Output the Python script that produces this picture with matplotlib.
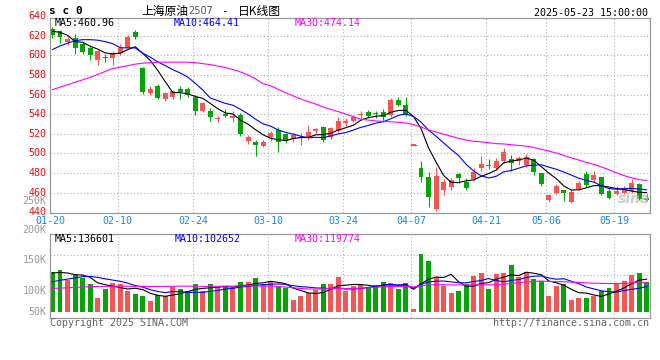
import numpy as np
import pandas as pd
import matplotlib
matplotlib.use('Agg')
import matplotlib.pyplot as plt
import matplotlib.transforms as mtrans

plt.rcParams['font.family'] = ['DejaVu Sans Mono', 'Noto Sans CJK SC']

# SC0 daily bars, 2025-01-20 .. 2025-05-23 (80 trading days)
opens = [626.5, 625, 613.3, 618, 612, 607.7, 595, 598.6, 597, 602,
         607.7, 624, 586.7, 562, 569, 555.4, 557.8, 565.6, 566, 557.8,
         543.6, 543.5, 534.7, 540, 535.7, 539, 512.5, 511.8, 507.5, 516.3,
         523.8, 519.4, 514.3, 515.3, 516.9, 523, 527, 517, 522.8, 530.6,
         533.3, 539, 542, 541, 542, 539.1, 554.4, 549.3, 508.5, 484.7,
         475.5, 442.9, 462.6, 466, 478.9, 471, 473.5, 485.3, 488, 484.7,
         492.4, 493.8, 492.4, 488.1, 493.8, 479.6, 452.3, 459.8, 462.5, 450,
         463.3, 479, 472.8, 475.5, 461.8, 458.5, 459.8, 461.8, 468.7, 454.5]
closes = [620.7, 619, 616.6, 607, 603.7, 600.3, 604.4, 597, 602, 607,
          619, 619, 563, 566, 556, 561.2, 563.6, 562.9, 559.5, 543.2,
          551, 537.3, 536.4, 538, 538, 519.4, 517, 508.5, 511.8, 520.4,
          511.8, 512.5, 518.7, 516.9, 521.4, 524.8, 514, 525.5, 533, 533.3,
          537.4, 540, 538.4, 540, 536.7, 554.4, 549.3, 539.1, 508.5, 475.5,
          455.7, 476.8, 471, 472.8, 474.5, 464.9, 481.3, 489.1, 487, 492.4,
          501.6, 490.4, 494.9, 496.6, 481.3, 468.7, 457.4, 466.6, 459.1, 460.8,
          470, 467.6, 477.9, 458.5, 454, 461.8, 463.3, 469.4, 453, 452]
highs = [628.5, 626, 619, 621.4, 614, 610.5, 605.4, 601, 604, 611.7,
         621, 625.5, 588.4, 569, 570.5, 563, 565, 569, 568, 560,
         552, 546, 538, 545.5, 543, 541, 518.4, 514, 514, 523,
         527, 520.5, 521, 521, 529, 526, 528, 527, 537, 536,
         539, 542.8, 544.4, 543, 545, 556.4, 557.5, 557.5, 508.5, 492.3,
         481, 486, 474, 474.5, 479.5, 475, 485, 497, 494, 495,
         505, 498, 497.5, 499, 495, 480.3, 459, 468.5, 463, 462.5,
         472, 481.5, 482, 476.2, 464, 466.5, 466.5, 473.5, 470, 458]
lows = [618, 613, 610.5, 601, 601, 595, 590, 593, 590.6, 600,
        607, 616.6, 561, 560, 555.4, 553, 555, 555, 557, 539,
        542, 533.3, 532, 537, 532, 518, 510, 497, 506, 513,
        501, 511, 512, 508, 514, 521, 512, 515, 522, 528,
        531.5, 534, 537.5, 536, 532, 536.7, 548, 538, 508.5, 471,
        445, 441.5, 457.5, 462.5, 470, 462.5, 472.5, 482, 484.5, 483,
        490, 482, 488.5, 486.3, 478, 466.8, 450.8, 458.5, 451, 449,
        462.5, 466, 471, 457.5, 453, 457.5, 458.5, 459.8, 452, 451.5]
volume = [163, 172, 131, 152, 141, 115, 59, 94, 120, 113,
          86, 74, 67, 45, 70, 66, 101, 94, 87, 115,
          87, 115, 104, 104, 97, 122, 123, 141, 115, 128,
          101, 97, 49, 67, 77, 90, 115, 115, 142, 87,
          107, 111, 101, 111, 122, 118, 94, 118, 12, 237,
          209, 142, 107, 77, 86, 114, 148, 159, 94, 156,
          159, 193, 145, 163, 135, 127, 66, 107, 114, 49,
          59, 59, 67, 86, 100, 114, 127, 152, 159, 122]  # thousand lots

tick_pos = [0, 9, 19, 29, 39, 48, 58, 66, 75]
tick_labels = ['01-20', '02-10', '02-24', '03-10', '03-24', '04-07', '04-21', '05-06', '05-19']
price_ticks = [640, 620, 600, 580, 560, 540, 520, 500, 480, 460, 440]
vol_labels = ['250K', '200K', '150K', '100K', '50K']

ma5_head = [624.5, 623.5, 620.5, 614]
ma10_head = [606, 609.5, 612.5, 615, 616, 616, 615.5, 614, 612]
ma30_head = [565, 567.5, 570, 572.5, 575, 577.5, 580.5, 583.5, 586.5, 588,
             589.5, 591, 592, 592.5, 593, 593, 593, 593, 593, 592.5,
             591.5, 590.5, 589, 587.5, 585.5, 583, 580, 576, 571]
vma5_head = [160, 162, 160, 153]
vma10_head = [124, 130, 135, 140, 145, 146, 142, 136, 131]
vma30_head = [97, 98, 99.5, 101, 102.5, 104, 105, 105, 105.5, 106,
              105.5, 105, 105, 104.5, 104.5, 105, 105.5, 106, 106, 105.5,
              105, 105, 105.5, 106, 106.5, 107, 107, 106.5, 106.5]

ma_text = ['MA5:460.96', 'MA10:464.41', 'MA30:474.14']
vma_text = ['MA5:136601', 'MA10:102652', 'MA30:119774']


def moving(values, n, head):
    ma = pd.Series(values, dtype=float).rolling(n).mean().to_numpy()
    ma[:len(head)] = head
    return ma


RED, GREEN = '#f45656', '#06a406'
GRID, FRAME = '#b4b4b4', '#9a9a9a'
W, H = 660, 360

o, c = np.array(opens), np.array(closes)
hi, lo = np.array(highs), np.array(lows)
vol = np.array(volume)
x = np.arange(len(c))
up = c >= o
colors = np.where(up, RED, GREEN)
bw = 0.66

fig = plt.figure(figsize=(6.6, 3.6), dpi=100)
fig.patch.set_facecolor('white')
ax = fig.add_axes([50 / W, 1 - 213.3 / H, 600 / W, 195 / H])
axv = fig.add_axes([50 / W, 1 - 318.3 / H, 600 / W, 84 / H])


def ftxt(px, py, s, **kw):
    fig.text(px / W, 1 - py / H, s, va='center', **kw)


# ---- price panel
ax.vlines(x, lo, hi, colors=colors, lw=0.8, zorder=2)
body_lo = np.minimum(o, c)
body_h = np.maximum(np.abs(c - o), 0.8)
ax.bar(x, body_h, bottom=body_lo, width=bw, color=colors, lw=0, zorder=2)
flat = np.abs(c - o) < 0.01
ax.hlines(c[flat], x[flat] - 0.45, x[flat] + 0.45, colors=RED, lw=0.9, zorder=2)

ax.plot(x, moving(closes, 5, ma5_head), color='black', lw=0.8, zorder=3)
ax.plot(x, moving(closes, 10, ma10_head), color='#0000ff', lw=0.8, zorder=3)
ax.plot(x, moving(closes, 30, ma30_head), color='#ff00ff', lw=0.8, zorder=3)

ax.set_xlim(-0.33, 79.45)
ax.set_ylim(438.8, 637.8)
for p in price_ticks[1:-1]:
    ax.axhline(p, color=GRID, lw=0.8, ls=(0, (1, 2)), zorder=1)
for t in tick_pos[1:]:
    ax.axvline(t - bw / 2, color=GRID, lw=0.8, ls=(0, (1, 2)), zorder=1)

ytr = mtrans.blended_transform_factory(ax.transAxes, ax.transData)
for p in price_ticks:
    ax.text(-0.006, p, str(p), transform=ytr, ha='right', va='center',
            color='#ee1111', fontsize=7.2, clip_on=False)
xtr = mtrans.blended_transform_factory(ax.transData, ax.transAxes)
for t, lab in zip(tick_pos, tick_labels):
    ax.text(t - bw / 2, -0.0385, lab, transform=xtr, ha='center', va='center',
            color='#1a88e0', fontsize=7.2, clip_on=False)

# ---- volume panel
axv.bar(x, vol, width=bw, color=colors, lw=0, zorder=2)
axv.plot(x, moving(volume, 5, vma5_head), color='black', lw=0.8, zorder=3)
axv.plot(x, moving(volume, 10, vma10_head), color='#0000ff', lw=0.8, zorder=3)
axv.plot(x, moving(volume, 30, vma30_head), color='#ff00ff', lw=0.8, zorder=3)
axv.set_xlim(-0.33, 79.45)
axv.set_ylim(-25.8, 318.6)
for f in (0.75, 0.51):
    axv.plot([0, 1], [f, f], transform=axv.transAxes, color=GRID, lw=0.8,
             ls=(0, (1, 2)), zorder=1)
for t in tick_pos[1:]:
    axv.axvline(t - bw / 2, color=GRID, lw=0.8, ls=(0, (1, 2)), zorder=1)

for a in (ax, axv):
    a.set_xticks([])
    a.set_yticks([])
    for s in a.spines.values():
        s.set_color(FRAME)
        s.set_linewidth(0.9)

# ---- texts
ftxt(49, 11, 's c 0', fontsize=8, fontweight='bold', color='black')
ftxt(141.5, 11, '上海原油', family=['Noto Sans CJK SC'], fontsize=8.5, color='black')
ftxt(188.5, 11, '2507', family=['DejaVu Sans'], fontsize=7, color='#555555')
ftxt(221.5, 11, '-', fontsize=8, color='black')
ftxt(237.5, 11, '日K线图', family=['Noto Sans CJK SC'], fontsize=8.5, color='black')
fig.text(648 / W, 1 - 12.7 / H, '2025-05-23 15:00:00', ha='right', va='center',
         fontsize=7.2, color='black')

for px, s, col in zip([55, 174, 295], ma_text, ['black', '#0000ff', '#ff00ff']):
    ftxt(px, 23.3, s, fontsize=7.2, color=col)
for px, s, col in zip([55, 175, 295], vma_text, ['black', '#0000ff', '#ff00ff']):
    ftxt(px, 239.5, s, fontsize=7.2, color=col)

for py, s in zip([200.5, 230.3, 260.3, 290.8, 311.7], vol_labels):
    fig.text(46.7 / W, 1 - py / H, s, ha='right', va='center', fontsize=7.2,
             color='#999999')

ftxt(50, 323.3, 'Copyright 2025 SINA.COM', fontsize=7.2, color='#666666')
fig.text(648.5 / W, 1 - 323.3 / H, 'http://finance.sina.com.cn', ha='right',
         va='center', fontsize=7.2, color='#666666')
fig.text(634 / W, 1 - 199 / H, 'sina', ha='center', va='center', family=['DejaVu Sans'],
         fontsize=10, fontstyle='italic', fontweight='bold', color='#b8b8b8', alpha=0.7)

fig.savefig('out.png', dpi=100)
